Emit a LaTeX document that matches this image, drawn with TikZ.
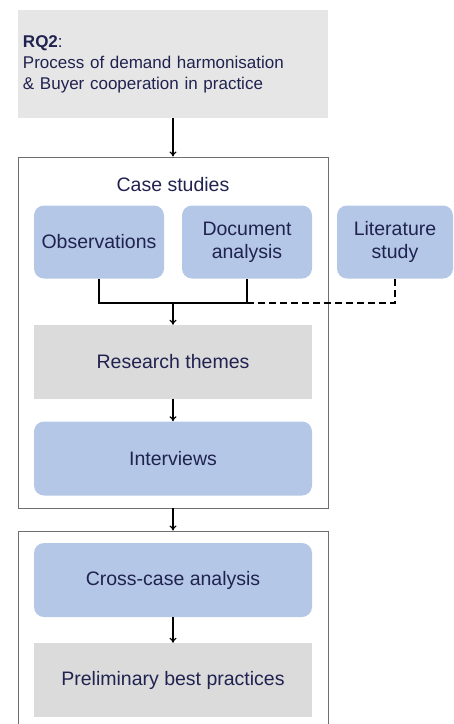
\documentclass[tikz,border=0pt]{standalone}
\usepackage{fontspec}
\setmainfont{Liberation Sans}
\usetikzlibrary{arrows.meta,positioning}
\definecolor{boxblue}{HTML}{B4C7E7}
\definecolor{lightgrey}{HTML}{E6E6E6}
\definecolor{midgrey}{HTML}{DBDBDB}
\definecolor{framegrey}{HTML}{6E6E6E}
\definecolor{inkblue}{HTML}{202250}

\begin{document}
\begin{tikzpicture}[x=1pt,y=-1pt,
  every node/.style={text=inkblue,font=\fontsize{19.5}{23}\selectfont},
  frame/.style={draw=framegrey,line width=0.9pt,minimum width=310pt},
  method/.style={fill=boxblue,rounded corners=10pt,minimum height=73pt,align=center},
  result/.style={fill=midgrey,minimum width=278pt,minimum height=74pt},
  flow/.style={line width=1.2pt,-{To[length=5pt,width=7pt]}}]
 \useasboundingbox (0,0) rectangle (454,724);
 %NODES
 \node[fill=lightgrey,minimum width=310pt,minimum height=108pt,text width=300pt,inner sep=5pt,
   align=left,font=\fontsize{17}{21}\selectfont] (rq) at (173,64)
   {\textbf{RQ2}:\\Process of demand harmonisation\\\& Buyer cooperation in practice};
 \node[frame,minimum height=351pt] (cases) at (173,332.5) {};
 \node (casetitle) at (173,185) {Case studies};
 \node[method,minimum width=130pt] (obs) at (99,242) {Observations};
 \node[method,minimum width=130pt] (doc) at (247,242) {Document\\analysis};
 \node[method,minimum width=116pt] (lit) at (395,242) {Literature\\study};
 \coordinate (merge) at (173,303);
 \node[result] (themes) at (173,362) {Research themes};
 \node[method,minimum width=278pt,minimum height=74pt] (intv) at (173,458.5) {Interviews};
 \node[frame,minimum height=208pt] (analysis) at (173,635) {};
 \node[method,minimum width=278pt,minimum height=74pt] (cross) at (173,580) {Cross-case analysis};
 \node[result] (prelim) at (173,680) {Preliminary best practices};
%EDGES
 \draw[flow] (rq) -- (cases);
 \draw[line width=1.2pt] (obs.south) |- (merge) -| (doc.south);
 \draw[line width=1.2pt,dash pattern=on 7pt off 4pt] (doc.south |- merge) -| (lit.south);
 \draw[flow] (merge) -- (themes);
 \draw[flow] (themes) -- (intv);
 \draw[flow] (cases) -- (analysis);
 \draw[flow] (cross) -- (prelim);
\end{tikzpicture}
\end{document}
